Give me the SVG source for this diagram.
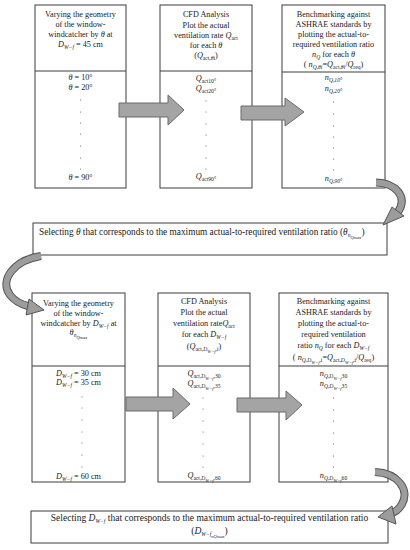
<svg xmlns="http://www.w3.org/2000/svg" width="410" height="550" viewBox="0 0 410 550">
<style>
.box{fill:#fff;stroke:#3c3c3c;stroke-width:1}
.t{font-family:"Liberation Serif","Times New Roman",serif;font-size:8.2px;fill:#1a1a1a;text-anchor:middle}
.l{text-anchor:start}
.big{font-size:9.3px}
.big2{font-size:9.5px}
.i{font-style:italic}
.s{font-size:5.6px}
.ss{font-size:4.6px}
.dot{fill:#444}
.blk{fill:#a4a4a4;stroke:#6a6a6a;stroke-width:1}
.ro{fill:none;stroke:#555;stroke-width:8}
.ri{fill:none;stroke:#9c9c9c;stroke-width:6}
.hd{fill:#9c9c9c;stroke:#555;stroke-width:1}
</style>
<rect width="410" height="550" fill="#fff"/>

<g id="vary-theta">
<rect class="box" x="35" y="5" width="91" height="183"/>
<line class="box" x1="35" y1="71" x2="126" y2="71"/>
<text class="t" x="80.5" y="17">Varying the geometry</text>
<text class="t" x="80.5" y="27">of the window-</text>
<text class="t" x="80.5" y="37">windcatcher by <tspan class="i">θ</tspan> at</text>
<text class="t" x="80.5" y="47"><tspan class="i">D</tspan><tspan class="s i" dy="2">W−f</tspan><tspan dy="-2"> = 45 cm</tspan></text>
<text class="t" x="80.5" y="80"><tspan class="i">θ</tspan>  = 10°</text>
<text class="t" x="80.5" y="90"><tspan class="i">θ</tspan>  = 20°</text>
<text class="t" x="80.5" y="180"><tspan class="i">θ</tspan>  = 90°</text>
<g class="dot"><circle cx="80.5" cy="100" r="0.5"/><circle cx="80.5" cy="112" r="0.5"/><circle cx="80.5" cy="123" r="0.5"/><circle cx="80.5" cy="134" r="0.5"/><circle cx="80.5" cy="146" r="0.5"/><circle cx="80.5" cy="158" r="0.5"/><circle cx="80.5" cy="169" r="0.5"/></g>
</g>

<g id="cfd-theta">
<rect class="box" x="160" y="5" width="92" height="183"/>
<line class="box" x1="160" y1="71" x2="252" y2="71"/>
<text class="t" x="206" y="17">CFD Analysis</text>
<text class="t" x="206" y="27.5">Plot the actual</text>
<text class="t" x="206" y="38">ventilation rate <tspan class="i">Q</tspan><tspan class="s" dy="2">act</tspan></text>
<text class="t" x="206" y="48">for each <tspan class="i">θ</tspan></text>
<text class="t" x="206" y="58">(<tspan class="i">Q</tspan><tspan class="s" dy="2">act,<tspan class="i">θ</tspan>i</tspan><tspan dy="-2">)</tspan></text>
<text class="t" x="206" y="81"><tspan class="i">Q</tspan><tspan class="s" dy="2">act10°</tspan></text>
<text class="t" x="206" y="91"><tspan class="i">Q</tspan><tspan class="s" dy="2">act20°</tspan></text>
<text class="t" x="206" y="179"><tspan class="i">Q</tspan><tspan class="s" dy="2">act90°</tspan></text>
<g class="dot"><circle cx="206" cy="101" r="0.5"/><circle cx="206" cy="112" r="0.5"/><circle cx="206" cy="124" r="0.5"/><circle cx="206" cy="135" r="0.5"/><circle cx="206" cy="146" r="0.5"/><circle cx="206" cy="158" r="0.5"/><circle cx="206" cy="169" r="0.5"/></g>
</g>

<g id="bench-theta">
<rect class="box" x="282" y="5" width="103" height="183"/>
<line class="box" x1="282" y1="72" x2="385" y2="72"/>
<text class="t" x="333.5" y="17">Benchmarking against</text>
<text class="t" x="333.5" y="27">ASHRAE standards by</text>
<text class="t" x="333.5" y="37">plotting the actual-to-</text>
<text class="t" x="333.5" y="47">required ventilation ratio</text>
<text class="t" x="333.5" y="57"><tspan class="i">n</tspan><tspan class="s i" dy="2">Q</tspan><tspan dy="-2"> for each </tspan><tspan class="i">θ</tspan></text>
<text class="t" x="333.5" y="67">( <tspan class="i">n</tspan><tspan class="s i" dy="2">Q,θi</tspan><tspan dy="-2">=</tspan><tspan class="i">Q</tspan><tspan class="s" dy="2">act,<tspan class="i">θ</tspan>i</tspan><tspan dy="-2">/</tspan><tspan class="i">Q</tspan><tspan class="s" dy="2">req</tspan><tspan dy="-2">)</tspan></text>
<text class="t" x="333.5" y="80"><tspan class="i">n</tspan><tspan class="s i" dy="2">Q,10°</tspan></text>
<text class="t" x="333.5" y="91"><tspan class="i">n</tspan><tspan class="s i" dy="2">Q,20°</tspan></text>
<text class="t" x="333.5" y="181"><tspan class="i">n</tspan><tspan class="s i" dy="2">Q,90°</tspan></text>
<g class="dot"><circle cx="333.5" cy="102" r="0.5"/><circle cx="333.5" cy="114" r="0.5"/><circle cx="333.5" cy="126" r="0.5"/><circle cx="333.5" cy="137" r="0.5"/><circle cx="333.5" cy="148" r="0.5"/><circle cx="333.5" cy="159" r="0.5"/><circle cx="333.5" cy="170" r="0.5"/></g>
</g>

<g id="select-theta">
<rect class="box" x="33" y="223" width="354" height="32"/>
<text class="t l big" x="39" y="235">Selecting <tspan class="i">θ</tspan> that corresponds to the maximum actual-to-required ventilation ratio (<tspan class="i">θ</tspan><tspan class="s i" dy="2">n</tspan><tspan class="ss i" dy="1.5">Qmax</tspan><tspan dy="-3.5">)</tspan></text>
</g>

<g id="vary-d">
<rect class="box" x="32" y="293" width="93" height="189"/>
<line class="box" x1="32" y1="366" x2="125" y2="366"/>
<text class="t" x="78.5" y="306">Varying the geometry</text>
<text class="t" x="78.5" y="316">of the window-</text>
<text class="t" x="78.5" y="326">windcatcher by <tspan class="i">D</tspan><tspan class="s i" dy="2">W−f</tspan><tspan dy="-2"> at</tspan></text>
<text class="t" x="78.5" y="335"><tspan class="i">θ</tspan><tspan class="s i" dy="2">n</tspan><tspan class="ss i" dy="1.5">Qmax</tspan></text>
<text class="t" x="78.5" y="376"><tspan class="i">D</tspan><tspan class="s i" dy="2">W−f</tspan><tspan dy="-2"> = 30 cm</tspan></text>
<text class="t" x="78.5" y="385"><tspan class="i">D</tspan><tspan class="s i" dy="2">W−f</tspan><tspan dy="-2"> = 35 cm</tspan></text>
<text class="t" x="78.5" y="479"><tspan class="i">D</tspan><tspan class="s i" dy="2">W−f</tspan><tspan dy="-2"> = 60 cm</tspan></text>
<g class="dot"><circle cx="82" cy="397" r="0.5"/><circle cx="82" cy="408" r="0.5"/><circle cx="82" cy="420" r="0.5"/><circle cx="82" cy="432" r="0.5"/><circle cx="82" cy="443" r="0.5"/><circle cx="82" cy="455" r="0.5"/><circle cx="82" cy="467" r="0.5"/></g>
</g>

<g id="cfd-d">
<rect class="box" x="158" y="293" width="92" height="189"/>
<line class="box" x1="158" y1="366" x2="250" y2="366"/>
<text class="t" x="204" y="304">CFD Analysis</text>
<text class="t" x="204" y="315">Plot the actual</text>
<text class="t" x="204" y="326">ventilation rate<tspan class="i">Q</tspan><tspan class="s" dy="2">act</tspan></text>
<text class="t" x="204" y="337">for each <tspan class="i">D</tspan><tspan class="s i" dy="2">W−f</tspan></text>
<text class="t" x="204" y="349">(<tspan class="i">Q</tspan><tspan class="s" dy="2">act,<tspan class="i">D</tspan></tspan><tspan class="ss i" dy="1.5">W−f</tspan><tspan class="s" dy="-1.5">,i</tspan><tspan dy="-2">)</tspan></text>
<text class="t" x="204" y="376"><tspan class="i">Q</tspan><tspan class="s" dy="2">act,<tspan class="i">D</tspan></tspan><tspan class="ss i" dy="1.5">W−f</tspan><tspan class="s" dy="-1.5">,30</tspan></text>
<text class="t" x="204" y="386"><tspan class="i">Q</tspan><tspan class="s" dy="2">act,<tspan class="i">D</tspan></tspan><tspan class="ss i" dy="1.5">W−f</tspan><tspan class="s" dy="-1.5">,35</tspan></text>
<text class="t" x="204" y="478"><tspan class="i">Q</tspan><tspan class="s" dy="2">act,<tspan class="i">D</tspan></tspan><tspan class="ss i" dy="1.5">W−f</tspan><tspan class="s" dy="-1.5">,60</tspan></text>
<g class="dot"><circle cx="203" cy="398" r="0.5"/><circle cx="203" cy="409" r="0.5"/><circle cx="203" cy="421" r="0.5"/><circle cx="203" cy="432" r="0.5"/><circle cx="203" cy="444" r="0.5"/><circle cx="203" cy="456" r="0.5"/><circle cx="203" cy="467" r="0.5"/></g>
</g>

<g id="bench-d">
<rect class="box" x="279" y="293" width="109" height="189"/>
<line class="box" x1="279" y1="366" x2="388" y2="366"/>
<text class="t" x="333.5" y="304">Benchmarking against</text>
<text class="t" x="333.5" y="315">ASHRAE standards by</text>
<text class="t" x="333.5" y="326">plotting the actual-to-</text>
<text class="t" x="333.5" y="337">required ventilation</text>
<text class="t" x="333.5" y="348">ratio  <tspan class="i">n</tspan><tspan class="s i" dy="2">Q</tspan><tspan dy="-2"> for each </tspan><tspan class="i">D</tspan><tspan class="s i" dy="2">W−f</tspan></text>
<text class="t" x="333.5" y="360">( <tspan class="i">n</tspan><tspan class="s i" dy="2">Q,D</tspan><tspan class="ss i" dy="1.5">W−f</tspan><tspan class="s" dy="-1.5">,i</tspan><tspan dy="-2">=</tspan><tspan class="i">Q</tspan><tspan class="s" dy="2">act,<tspan class="i">D</tspan></tspan><tspan class="ss i" dy="1.5">W−f</tspan><tspan class="s" dy="-1.5">,i</tspan><tspan dy="-2">/</tspan><tspan class="i">Q</tspan><tspan class="s" dy="2">req</tspan><tspan dy="-2">)</tspan></text>
<text class="t" x="333.5" y="376"><tspan class="i">n</tspan><tspan class="s i" dy="2">Q,D</tspan><tspan class="ss i" dy="1.5">W−f</tspan><tspan class="s" dy="-1.5">30</tspan></text>
<text class="t" x="333.5" y="386"><tspan class="i">n</tspan><tspan class="s i" dy="2">Q,D</tspan><tspan class="ss i" dy="1.5">W−f</tspan><tspan class="s" dy="-1.5">35</tspan></text>
<text class="t" x="333.5" y="478"><tspan class="i">n</tspan><tspan class="s i" dy="2">Q,D</tspan><tspan class="ss i" dy="1.5">W−f</tspan><tspan class="s" dy="-1.5">60</tspan></text>
<g class="dot"><circle cx="333.5" cy="398" r="0.5"/><circle cx="333.5" cy="410" r="0.5"/><circle cx="333.5" cy="421" r="0.5"/><circle cx="333.5" cy="433" r="0.5"/><circle cx="333.5" cy="444" r="0.5"/><circle cx="333.5" cy="456" r="0.5"/><circle cx="333.5" cy="467" r="0.5"/></g>
</g>

<g id="select-d">
<rect class="box" x="31" y="511" width="357" height="32"/>
<text class="t big2" x="209.5" y="521">Selecting <tspan class="i">D</tspan><tspan class="s i" dy="2">W−f</tspan><tspan dy="-2"> that corresponds to the maximum actual-to-required ventilation ratio</tspan></text>
<text class="t big2" x="209.5" y="534">(<tspan class="i">D</tspan><tspan class="s i" dy="2">W−f</tspan><tspan class="ss i" dy="1.5">nQmax</tspan><tspan dy="-3.5">)</tspan></text>
</g>

<g id="connectors">
<polygon class="blk" points="119,103 168,103 168,95 184,110 168,125 168,117 119,117"/>
<polygon class="blk" points="241,106 285,106 285,98 304,112 285,126 285,120 241,120"/>
<polygon class="blk" points="126,397 173,397 173,388 190,404 173,419 173,411 126,411"/>
<polygon class="blk" points="237,398 286,398 286,391 302,405 286,420 286,412 237,412"/>

<path class="ro" d="M376 182.5 C396 183 408 197 398 212"/>
<path class="ri" d="M376 182.5 C396 183 408 197 398 212"/>
<polygon class="hd" points="392,207 404,216 383,225"/>

<path class="ro" d="M41 256 C14 260 -1 280 10 295 Q16 303 28 306"/>
<path class="ri" d="M41 256 C14 260 -1 280 10 295 Q16 303 28 306"/>
<polygon class="hd" points="29,299 44,310 26,315"/>

<path class="ro" d="M375 472 C398 473 410 490 402 504 Q398 511 392 513"/>
<path class="ri" d="M375 472 C398 473 410 490 402 504 Q398 511 392 513"/>
<polygon class="hd" points="392,506 396,524 378,517"/>
</g>
</svg>
